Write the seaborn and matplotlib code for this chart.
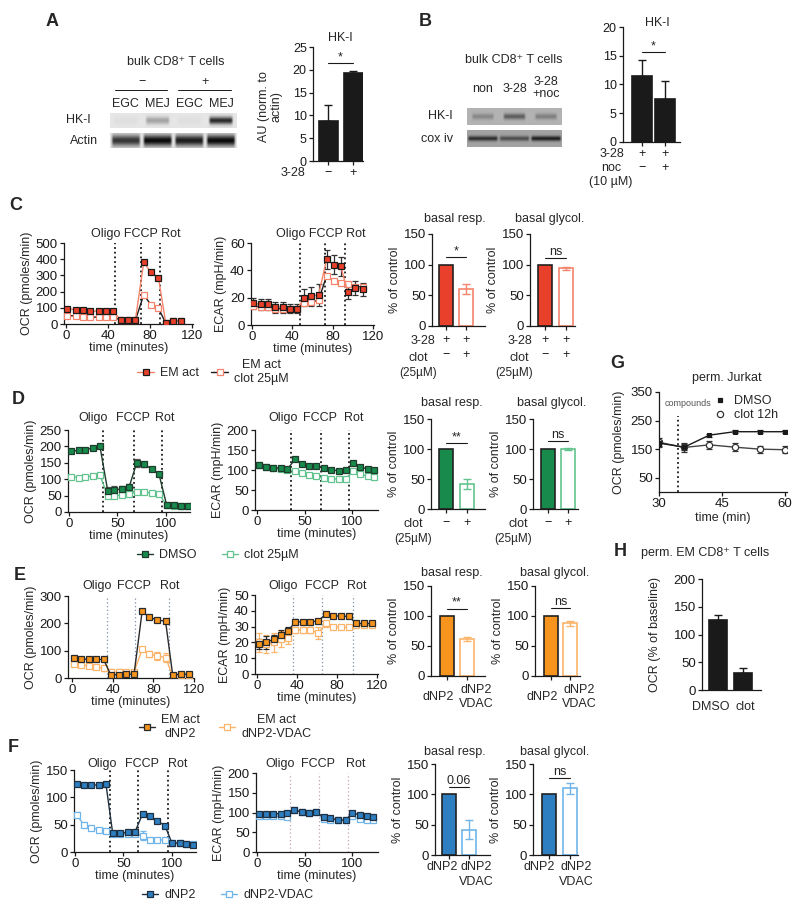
import numpy as np
import pandas as pd
import seaborn as sns
import matplotlib.pyplot as plt
from matplotlib.lines import Line2D
from matplotlib import transforms

sns.set_theme(style='ticks')
plt.rcParams['font.family'] = ['Liberation Sans', 'DejaVu Sans']
plt.rcParams['font.size'] = 8

W, H = 800, 913
fig = plt.figure(figsize=(W / 100, H / 100), dpi=100)

RED, RED_L = '#e8402a', '#f4846c'
GREEN, GREEN_L = '#178a4c', '#63c38f'
ORANGE, ORANGE_L = '#f7941d', '#fbb469'
BLUE, BLUE_L = '#2d7fc1', '#70b5ea'

# ---- data ----
# A
a_lanes = ['EGC', 'MEJ', 'EGC', 'MEJ']
a_hk = [0.03, 0.3, 0.03, 0.85]
a_actin = [0.8, 1.0, 0.92, 1.0]
a_cond = ['−', '+']
a_mean = [8.7, 19.2]
a_err = [3.6, 0.5]

# B
b_lanes = ['non', '3-28', '3-28\n+noc']
b_hk = [0.25, 0.5, 0.3]
b_cox = [0.75, 0.55, 0.85]
b_cond = ['+\n−', '+\n+']
b_mean = [11.4, 7.4]
b_err = [2.8, 3.2]

# C
c_time = [1, 9, 16, 23, 31, 38, 45, 52, 59, 66, 74, 81, 88, 95, 102, 110]
c_ocr_em = [94, 88, 87, 78, 80, 80, 82, 22, 22, 22, 380, 318, 287, 8, 18, 20]
c_ocr_clot = [52, 50, 46, 42, 43, 43, 45, 22, 22, 22, 180, 118, 98, 6, 18, 20]
c_ecar_em = [16, 15, 15, 13, 13, 12, 12, 20, 21, 22, 48, 44, 43, 24, 27, 26]
c_ecar_em_err = [4, 4, 4, 4, 4, 3, 3, 6, 7, 8, 7, 7, 7, 5, 5, 5]
c_ecar_clot = [14, 13, 13, 12, 12, 12, 12, 16, 17, 18, 36, 32, 31, 30, 28, 28]
c_resp = [100, 60]
c_resp_err = [0, 8]
c_glyc = [100, 94]
c_glyc_err = [0, 3]
c_cond = ['+\n−', '+\n+']

# D
d_time = [2, 10, 17, 25, 32, 40, 47, 55, 62, 70, 78, 86, 93, 101, 108, 116, 123]
d_ocr_dmso = [185, 188, 190, 195, 200, 65, 68, 70, 75, 150, 145, 130, 115, 20, 20, 18, 17]
d_ocr_dmso_err = [6, 5, 5, 5, 6, 10, 10, 10, 10, 12, 8, 5, 5, 5, 4, 4, 4]
d_ocr_clot = [108, 105, 107, 110, 112, 50, 50, 52, 55, 62, 60, 58, 55, 20, 18, 18, 17]
d_ecar_dmso = [112, 108, 106, 104, 102, 127, 115, 110, 110, 104, 100, 98, 100, 117, 107, 103, 100]
d_ecar_clot = [112, 108, 104, 102, 100, 97, 92, 88, 85, 79, 78, 77, 77, 97, 89, 85, 83]
d_resp = [100, 42]
d_resp_err = [0, 8]
d_glyc = [100, 100]
d_glyc_err = [0, 1.5]
d_cond = ['−', '+']

# E
e_time = [2, 9, 17, 24, 31, 38, 46, 53, 61, 69, 76, 84, 92, 99, 107, 115]
e_ocr_em = [75, 70, 68, 68, 68, 12, 12, 13, 14, 245, 222, 212, 208, 12, 14, 14]
e_ocr_vdac = [50, 47, 45, 40, 36, 22, 22, 22, 22, 105, 88, 80, 75, 8, 12, 12]
e_ocr_vdac_err = [3, 3, 3, 6, 12, 10, 10, 8, 8, 8, 12, 15, 15, 3, 3, 3]
e_ecar_em = [19, 20, 22, 25, 27, 33, 33, 33, 33.5, 38, 37, 36.5, 36.5, 32, 32, 32]
e_ecar_em_err = [3, 4, 3, 3, 3, 1.5, 1, 1, 1, 1.5, 1, 1, 1, 1, 1, 1]
e_ecar_vdac = [20, 19, 20, 22, 23, 28, 28, 28, 26, 32, 30, 29.5, 29.5, 31, 31, 31]
e_ecar_vdac_err = [6, 6, 6, 5, 4, 2, 2, 2, 4, 2, 1, 1, 1, 1, 1, 1]
e_resp = [100, 62]
e_resp_err = [0, 3]
e_glyc = [100, 88]
e_glyc_err = [0, 4]
ef_cond = ['dNP2', 'dNP2\nVDAC']

# F
f_time = [2, 9, 17, 25, 32, 39, 47, 55, 62, 70, 77, 85, 93, 100, 108, 115, 122]
f_ocr_dnp2 = [125, 122, 122, 123, 124, 34, 35, 36, 37, 70, 65, 57, 48, 17, 16, 15, 13]
f_ocr_dnp2_err = [3, 2, 2, 2, 2, 3, 2, 2, 3, 3, 2, 2, 2, 2, 2, 2, 3]
f_ocr_vdac = [68, 50, 44, 41, 39, 33, 33, 33, 33, 30, 22, 22, 22, 17, 16, 15, 15]
f_ocr_vdac_err = [5, 2, 2, 2, 2, 2, 2, 2, 2, 8, 2, 2, 2, 2, 2, 2, 2]
f_ecar_dnp2 = [95, 95, 97, 97, 98, 107, 101, 99, 101, 88, 85, 82, 80, 100, 93, 90, 88]
f_ecar_vdac = [90, 90, 91, 90, 89, 107, 101, 99, 101, 83, 82, 81, 80, 90, 84, 82, 80]
f_resp = [100, 42]
f_resp_err = [0, 16]
f_glyc = [100, 110]
f_glyc_err = [0, 9]

# G
g_time = [30, 36, 42, 48, 54, 60]
g_dmso = [171, 157, 199, 211, 211, 211]
g_dmso_err = [10, 10, 5, 5, 5, 5]
g_clot = [174, 156, 165, 157, 150, 148]
g_clot_err = [15, 15, 15, 15, 12, 12]

# H
h_cats = ['DMSO', 'clot']
h_mean = [127, 31]
h_err = [8, 8]


# ---- helpers ----
def px_ax(l, t, r, b):
    return fig.add_axes([l / W, 1 - b / H, (r - l) / W, (b - t) / H])


def ftext(x, y, s, **kw):
    kw.setdefault('ha', 'center')
    kw.setdefault('va', 'center')
    kw.setdefault('fontsize', 8.5)
    fig.text(x / W, 1 - y / H, s, **kw)


def style(ax, size=9.5):
    sns.despine(ax=ax)
    ax.tick_params(length=3, width=0.9, labelsize=size, pad=1.5, colors='k')
    for s in ax.spines.values():
        s.set_linewidth(0.9)
        s.set_color('k')


def xtext(ax, x, y, s, **kw):
    # x in data units, y in figure pixels
    tr = transforms.blended_transform_factory(ax.transData, fig.transFigure)
    kw.setdefault('ha', 'center')
    kw.setdefault('va', 'center')
    kw.setdefault('fontsize', 8.5)
    ax.text(x, 1 - y / H, s, transform=tr, **kw)


def sig(ax, y, s):
    ax.plot([0, 1], [y, y], color='k', lw=0.8, clip_on=False)
    ax.text(0.5, y, s, ha='center', va='bottom', fontsize=9)


def blot(box, levels, bg, wfrac=0.8, hfrac=0.5):
    ax = px_ax(*box)
    n = len(levels)
    X, Y = np.meshgrid(np.linspace(0, n, 300), np.linspace(0, 1, 40))
    dark = np.zeros_like(X)
    for i, lv in enumerate(levels):
        hx = np.clip((wfrac / 2 - np.abs(X - i - 0.5)) / 0.08, 0, 1)
        vy = np.exp(-((Y - 0.5) / (hfrac / 2)) ** 2)
        dark = np.maximum(dark, lv * hx * vy)
    ax.imshow(bg * (1 - 0.95 * dark), cmap='gray', vmin=0, vmax=1,
              extent=(0, n, 0, 1), aspect='auto', interpolation='bilinear')
    ax.set_xticks([])
    ax.set_yticks([])
    for s in ax.spines.values():
        s.set_visible(False)
    return ax


def trace(box, t, series, xlim, ylim, xticks, yticks, ylabel, vlines, vstyle, inj, inj_y):
    ax = px_ax(*box)
    for y, err, lc, mfc, mec, errc in series:
        if err is not None:
            ax.errorbar(t, y, yerr=err, fmt='none', ecolor=errc, elinewidth=0.9,
                        capsize=2, capthick=0.9, zorder=2)
        sns.lineplot(x=t, y=y, ax=ax, color=lc, linewidth=1, marker='s', markersize=4.5,
                     markerfacecolor=mfc, markeredgecolor=mec, markeredgewidth=0.9, zorder=3)
    for v in vlines:
        ax.axvline(v, **vstyle)
    ax.set_xlim(xlim)
    ax.set_ylim(ylim)
    ax.set_xticks(xticks)
    ax.set_yticks(yticks)
    ax.set_xlabel('time (minutes)', labelpad=0, fontsize=9)
    ax.set_ylabel(ylabel, labelpad=2, fontsize=9)
    for lab, x in inj:
        xtext(ax, x, inj_y, lab, fontsize=9)
    style(ax)
    return ax


def bars(box, means, errs, fcs, ecs, errcs, xlim, ylim, yticks, width, ylabel,
         upper_only=False, size=9.5):
    ax = px_ax(*box)
    cats = [f'c{i}' for i in range(len(means))]
    sns.barplot(x=cats, y=means, hue=cats, palette=fcs, saturation=1, legend=False,
                width=width, errorbar=None, ax=ax)
    for p, fc, ec in zip(ax.patches, fcs, ecs):
        p.set_facecolor(fc)
        p.set_edgecolor(ec)
        p.set_linewidth(1.2)
    for i, (m, e, c) in enumerate(zip(means, errs, errcs)):
        if e > 0:
            lo = 0 if upper_only else e
            ax.errorbar(i, m, yerr=[[lo], [e]], fmt='none', ecolor=c, elinewidth=1,
                        capsize=3, capthick=1, zorder=3)
    ax.set_xlim(xlim)
    ax.set_ylim(ylim)
    ax.set_yticks(yticks)
    ax.set_xlabel('')
    ax.set_ylabel(ylabel, labelpad=2, fontsize=9)
    style(ax, size)
    return ax


def cond_labels(ax, labels, xs, y, va='center', linespacing=1.15):
    ax.set_xticks([0, 1], ['', ''])
    for lab, x in zip(labels, xs):
        xtext(ax, x, y, lab, va=va, fontsize=9, linespacing=linespacing)


def legend_at(x, y, handles, labels, ncol=None, center=False, **kw):
    kw.setdefault('columnspacing', 1.0)
    leg = fig.legend(handles, labels, loc='center', bbox_to_anchor=(x / W, 1 - y / H),
                     ncol=ncol or len(handles), frameon=False, fontsize=9,
                     handlelength=1.3, handletextpad=0.5, **kw)
    if center:
        for tx in leg.get_texts():
            tx.set_multialignment('center')
    return leg


def hnd(lc, mfc, mec, marker='s', ms=4.5, ls='-'):
    return Line2D([0], [0], color=lc, lw=1, ls=ls, marker=marker, markersize=ms,
                  markerfacecolor=mfc, markeredgecolor=mec, markeredgewidth=0.9)


dots_k = dict(color='k', ls=(0, (1, 1.6)), lw=1.3, zorder=1)
dots_g = dict(color='#8090a8', ls=(0, (1, 2)), lw=0.9, zorder=1)
dots_p = dict(color='#c8a0b4', ls=(0, (1, 2)), lw=0.9, zorder=1)
bar_ticks = [0, 50, 100, 150]

# ---- panel letters ----
for letter, x, y in [('A', 52, 22), ('B', 425, 22), ('C', 16, 205), ('D', 18, 400),
                     ('E', 20, 575), ('F', 13, 748), ('G', 617, 363), ('H', 620, 552)]:
    ftext(x, y, letter, fontsize=13, fontweight='bold')

# ---- A ----
ax = blot((110, 113, 237, 128), a_hk, 0.9, wfrac=0.8, hfrac=0.5)
blot((110, 133, 237, 148), a_actin, 0.88, wfrac=0.95, hfrac=0.75)
for i, lab in enumerate(a_lanes):
    xtext(ax, i + 0.5, 104, lab, fontsize=9)
xtext(ax, 1.0, 82, '−', fontsize=9)
xtext(ax, 3.0, 82, '+', fontsize=9)
tr = transforms.blended_transform_factory(ax.transData, fig.transFigure)
for x0, x1 in [(0.16, 1.8), (2.14, 3.81)]:
    ax.plot([x0, x1], [1 - 90 / H] * 2, color='k', lw=0.7, transform=tr, clip_on=False)
ftext(176, 62, 'bulk CD8⁺ T cells', fontsize=9)
ftext(66, 120, 'HK-I', ha='left', fontsize=9)
ftext(70, 141, 'Actin', ha='left', fontsize=9)

ax = bars((313, 47, 363, 161), a_mean, a_err, ['k', 'k'], ['k', 'k'], ['k', 'k'],
          (-0.6, 1.4), (0, 25), [0, 5, 10, 15, 20, 25], 0.76, '', upper_only=True, size=9)
ax.set_xticks([0, 1], a_cond)
sig(ax, 21.5, '*')
ftext(340, 38, 'HK-I', fontsize=9)
ftext(270, 107, 'AU (norm. to\nactin)', rotation=90, linespacing=1.1, fontsize=9)
ftext(305, 173, '3-28', ha='right', fontsize=9)

# ---- B ----
ax = blot((467, 108, 562, 125), b_hk, 0.7, wfrac=0.75, hfrac=0.35)
blot((467, 130, 562, 147), b_cox, 0.64, wfrac=1.0, hfrac=0.3)
for i, lab in enumerate(b_lanes):
    xtext(ax, i + 0.5, 89 if i < 2 else 88, lab, fontsize=9, linespacing=1.1)
ftext(514, 60, 'bulk CD8⁺ T cells', fontsize=9)
ftext(440, 116, 'HK-I', fontsize=9)
ftext(437, 139, 'cox iv', fontsize=9)

ax = bars((623, 27, 680, 142), b_mean, b_err, ['k', 'k'], ['k', 'k'], ['k', 'k'],
          (-0.83, 1.65), (0, 20), [0, 5, 10, 15, 20], 0.9, '', upper_only=True, size=9)
ax.set_xticks([0, 1], b_cond)
plt.setp(ax.get_xticklabels(), linespacing=1.2)
sig(ax, 15.6, '*')
ftext(657, 23, 'HK-I', fontsize=9)
ftext(612, 154, '3-28', fontsize=9)
ftext(611, 168, 'noc', fontsize=9)
ftext(611, 182, '(10 µM)', fontsize=9)

# ---- C ----
trace((64, 243, 193, 324), c_time,
      [(c_ocr_clot, None, 'k', 'w', RED_L, 'k'),
       (c_ocr_em, None, RED_L, RED, 'k', 'k')],
      (-2, 121), (0, 500), [0, 40, 80, 120], [0, 100, 200, 300, 400, 500],
      'OCR (pmoles/min)', [47, 71, 90], dots_k, [('Oligo FCCP Rot', 66)], 234)
trace((251, 243, 374, 325), c_time,
      [(c_ecar_clot, None, 'k', 'w', RED_L, 'k'),
       (c_ecar_em, c_ecar_em_err, RED_L, RED, 'k', '#333333')],
      (-1, 121), (0, 60), [0, 40, 80, 120], [0, 20, 40, 60],
      'ECAR (mpH/min)', [48, 72, 92], dots_k, [('Oligo FCCP Rot', 68)], 234)
legend_at(213, 372, [hnd(RED_L, RED, 'k'), hnd('k', 'w', RED_L)],
          ['EM act', 'EM act\nclot 25µM'], center=True)

for box, vals, errs, xlim, title, tx, s, sy in [
        ((432, 234, 485, 326), c_resp, c_resp_err, (-0.7, 1.95), 'basal resp.', 455, '*', 112),
        ((530, 234, 575, 326), c_glyc, c_glyc_err, (-0.71, 1.43), 'basal glycol.', 550, 'ns', 111)]:
    ax = bars(box, vals, errs, [RED, 'w'], ['#222222', RED_L], [RED_L, RED_L],
              xlim, (0, 150), bar_ticks, 0.7, '% of control')
    ax.set_xticks([0, 1], c_cond)
    plt.setp(ax.get_xticklabels(), linespacing=1.35, fontsize=9)
    ax.tick_params(axis='x', pad=3)
    sig(ax, sy, s)
    ftext(tx, 219, title, fontsize=9)
ftext(435, 341, '3-28', ha='right', fontsize=9)
ftext(418, 358, 'clot', fontsize=9)
ftext(418, 373, '(25µM)', fontsize=8.5)
ftext(532, 341, '3-28', ha='right', fontsize=9)
ftext(519, 358, 'clot', fontsize=9)
ftext(514, 373, '(25µM)', fontsize=8.5)

# ---- D ----
trace((68, 430, 190, 512), d_time,
      [(d_ocr_clot, None, GREEN_L, 'w', GREEN_L, GREEN_L),
       (d_ocr_dmso, d_ocr_dmso_err, '#1e3b2c', GREEN, '#1e3b2c', '#555555')],
      (-1, 125), (0, 250), [0, 50, 100], [0, 50, 100, 150, 200, 250],
      'OCR (pmoles/min)', [35, 67, 96], dots_k,
      [('Oligo', 25), ('FCCP', 66), ('Rot', 99)], 418)
trace((255, 430, 378, 510), d_time,
      [(d_ecar_clot, None, GREEN_L, 'w', GREEN_L, GREEN_L),
       (d_ecar_dmso, None, '#1e3b2c', GREEN, '#1e3b2c', '#555555')],
      (-2, 127), (0, 200), [0, 50, 100], [0, 50, 100, 150, 200],
      'ECAR (mpH/min)', [36, 67, 97], dots_k,
      [('Oligo', 27), ('FCCP', 66), ('Rot', 102)], 418)
legend_at(218, 555, [hnd('#1e3b2c', GREEN, '#1e3b2c'), hnd(GREEN_L, 'w', GREEN_L)],
          ['DMSO', 'clot 25µM'], columnspacing=2.0)

for box, vals, errs, xlim, title, tx, s, sy in [
        ((431, 419, 485, 509), d_resp, d_resp_err, (-0.71, 1.86), 'basal resp.', 452, '**', 110),
        ((533, 419, 578, 509), d_glyc, d_glyc_err, (-0.75, 1.5), 'basal glycol.', 552, 'ns', 113)]:
    ax = bars(box, vals, errs, [GREEN, 'w'], ['#222222', GREEN_L], [GREEN_L, GREEN_L],
              xlim, (0, 150), bar_ticks, 0.7, '% of control')
    ax.set_xticks([0, 1], d_cond)
    plt.setp(ax.get_xticklabels(), fontsize=9)
    ax.tick_params(axis='x', pad=3)
    sig(ax, sy, s)
    ftext(tx, 403, title, fontsize=9)
ftext(413, 524, 'clot', fontsize=9)
ftext(413, 539, '(25µM)', fontsize=8.5)
ftext(518, 524, 'clot', fontsize=9)
ftext(513, 539, '(25µM)', fontsize=8.5)

# ---- E ----
trace((68, 596, 194, 678), e_time,
      [(e_ocr_vdac, e_ocr_vdac_err, ORANGE_L, 'w', ORANGE_L, ORANGE_L),
       (e_ocr_em, None, '#2a2a2a', ORANGE, '#2a2a2a', '#2a2a2a')],
      (-4, 120), (0, 300), [0, 40, 80, 120], [0, 100, 200, 300],
      'OCR (pmoles/min)', [34, 62, 95], dots_g,
      [('Oligo', 25), ('FCCP', 61), ('Rot', 96)], 586)
trace((255, 595, 378, 674), e_time,
      [(e_ecar_vdac, e_ecar_vdac_err, ORANGE_L, 'w', ORANGE_L, ORANGE_L),
       (e_ecar_em, e_ecar_em_err, '#2a2a2a', ORANGE, '#2a2a2a', '#2a2a2a')],
      (-2, 121), (0, 50), [0, 40, 80, 120], [0, 10, 20, 30, 40, 50],
      'ECAR (mpH/min)', [36, 65, 96], dots_g,
      [('Oligo', 26), ('FCCP', 65), ('Rot', 100)], 586)
legend_at(225, 727, [hnd('#2a2a2a', ORANGE, '#2a2a2a'), hnd(ORANGE_L, 'w', ORANGE_L)],
          ['EM act\ndNP2', 'EM act\ndNP2-VDAC'], center=True, columnspacing=1.5)

for box, vals, errs, xlim, title, tx, s, sy, lx in [
        ((431, 586, 485, 676), e_resp, e_resp_err, (-0.8, 1.9), 'basal resp.', 452, '**', 112,
         (-0.45, 1.45)),
        ((535, 586, 580, 676), e_glyc, e_glyc_err, (-0.84, 1.53), 'basal glycol.', 555, 'ns', 113,
         (-0.47, 1.47))]:
    ax = bars(box, vals, errs, [ORANGE, 'w'], ['#222222', ORANGE_L], [ORANGE_L, ORANGE_L],
              xlim, (0, 150), bar_ticks, 0.7, '% of control')
    cond_labels(ax, ef_cond, lx, 697)
    sig(ax, sy, s)
    ftext(tx, 573, title, fontsize=9)

# ---- F ----
trace((74, 770, 196, 852), f_time,
      [(f_ocr_vdac, f_ocr_vdac_err, BLUE_L, 'w', BLUE_L, BLUE_L),
       (f_ocr_dnp2, f_ocr_dnp2_err, '#1f2f40', BLUE, '#1f2f40', '#1f2f40')],
      (-1, 125), (0, 150), [0, 50, 100], [0, 50, 100, 150],
      'OCR (pmoles/min)', [36, 65, 96], dots_k,
      [('Oligo', 28), ('FCCP', 69), ('Rot', 106)], 764)
trace((256, 773, 378, 852), f_time,
      [(f_ecar_vdac, None, BLUE_L, 'w', BLUE_L, BLUE_L),
       (f_ecar_dnp2, None, '#1f2f40', BLUE, '#1f2f40', '#1f2f40')],
      (-1, 127), (0, 200), [0, 50, 100], [0, 50, 100, 150, 200],
      'ECAR (mpH/min)', [35, 65, 96], dots_p,
      [('Oligo', 24), ('FCCP', 64), ('Rot', 104)], 764)
legend_at(228, 895, [hnd('#1f2f40', BLUE, '#1f2f40'), hnd(BLUE_L, 'w', BLUE_L)],
          ['dNP2', 'dNP2-VDAC'], columnspacing=2.0)

for box, vals, errs, xlim, title, tx, s, sy, lx in [
        ((435, 764, 490, 855), f_resp, f_resp_err, (-0.7, 2.05), 'basal resp.', 455, '0.06', 112,
         (-0.35, 1.35)),
        ((533, 764, 578, 855), f_glyc, f_glyc_err, (-0.76, 1.38), 'basal glycol.', 555, 'ns', 127,
         (-0.45, 1.3))]:
    ax = bars(box, vals, errs, [BLUE, 'w'], ['#222222', BLUE_L], [BLUE_L, BLUE_L],
              xlim, (0, 150), bar_ticks, 0.7, '% of control')
    cond_labels(ax, ef_cond, lx, 861, va='top', linespacing=1.3)
    sig(ax, sy, s)
    ftext(tx, 752, title, fontsize=9)

# ---- G ----
ax = px_ax(659, 392, 787, 492)
ax.errorbar(g_time, g_clot, yerr=g_clot_err, fmt='none', ecolor='#333333', elinewidth=0.9,
            capsize=2, capthick=0.9)
ax.errorbar(g_time, g_dmso, yerr=g_dmso_err, fmt='none', ecolor='k', elinewidth=0.9,
            capsize=2, capthick=0.9)
sns.lineplot(x=g_time, y=g_clot, ax=ax, color='#444444', linewidth=1, marker='o',
             markersize=4.5, markerfacecolor='w', markeredgecolor='#333333', markeredgewidth=0.9)
sns.lineplot(x=g_time, y=g_dmso, ax=ax, color='k', linewidth=1, marker='s',
             markersize=3.5, markerfacecolor='k', markeredgecolor='k')
ax.axvline(34.5, ymax=0.76, **dots_k)
ax.set_xlim(30, 60.5)
ax.set_ylim(0, 350)
ax.set_xticks([30, 45, 60])
ax.set_yticks([50, 150, 250, 350])
ax.set_xlabel('time (min)', labelpad=1, fontsize=9)
ax.set_ylabel('OCR (pmoles/min)', labelpad=4, fontsize=9)
style(ax)
ftext(727, 378, 'perm. Jurkat', fontsize=9)
ftext(688, 403, 'compounds', fontsize=6.5, color='#555555')
legend_at(745, 408, [hnd('k', 'k', 'k', ms=3.5, ls='none'), hnd('#333333', 'w', '#333333', marker='o', ls='none')],
          ['DMSO', 'clot 12h'], ncol=1, labelspacing=0.15)

# ---- H ----
ax = bars((702, 579, 761, 690), h_mean, h_err, ['k', 'k'], ['k', 'k'], ['k', 'k'],
          (-0.64, 1.72), (0, 200), [0, 50, 100, 150, 200], 0.7, 'OCR (% of baseline)',
          upper_only=True)
ax.tick_params(axis='x', length=0)
cond_labels(ax, h_cats, (-0.28, 1.08), 707)
ax.yaxis.labelpad = 9
ftext(705, 553, 'perm. EM CD8⁺ T cells', fontsize=9)

fig.savefig('out.png', dpi=100)
